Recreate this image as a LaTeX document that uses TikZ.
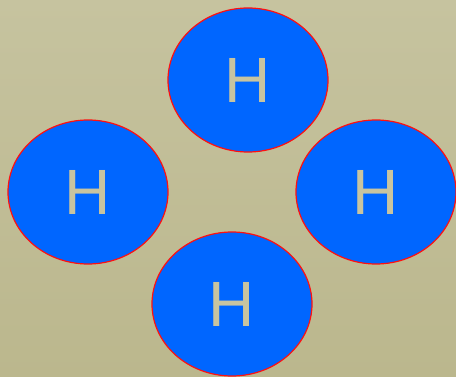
\documentclass[tikz,border=0pt]{standalone}
\usepackage{fontspec}
\setmainfont{Liberation Sans}
\usetikzlibrary{shapes.geometric}
\definecolor{bgtop}{HTML}{C6C39F}
\definecolor{bgbot}{HTML}{BBB78D}
\definecolor{atomblue}{HTML}{0066FF}
\definecolor{atomred}{HTML}{FF1010}
\definecolor{letter}{HTML}{C8C4A0}
\tikzset{
  atom/.style={ellipse, draw=atomred, line width=1.2pt, fill=atomblue,
    minimum width=160pt, minimum height=144pt, inner sep=0pt,
    text=letter, font=\fontsize{64}{64}\selectfont}
}
\begin{document}
\begin{tikzpicture}[x=1pt,y=-1pt]
  % background panel with a soft vertical gradient
  \shade[top color=bgtop, bottom color=bgbot] (0,0) rectangle (456,377);
  \useasboundingbox (0,0) rectangle (456,377);
  % four hydrogen atoms
  \node[atom] (top)    at (248,80)  {H};
  \node[atom] (left)   at (88,192)  {H};
  \node[atom] (right)  at (376,192) {H};
  \node[atom] (bottom) at (232,304) {H};
\end{tikzpicture}
\end{document}
